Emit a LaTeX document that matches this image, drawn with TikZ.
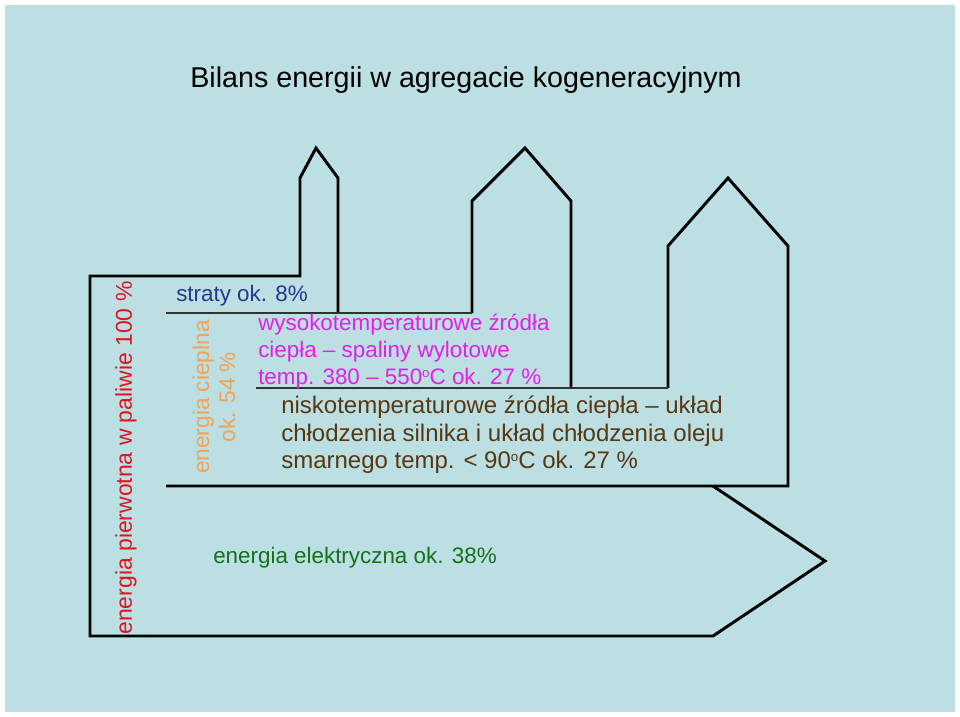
\documentclass[tikz,border=0pt]{standalone}
\usepackage{fontspec}
\setmainfont{Liberation Sans}
\definecolor{bg}{HTML}{BBDFE3}
\definecolor{mag}{HTML}{E61EE6}
\definecolor{brn}{HTML}{583811}
\definecolor{grn}{HTML}{17701D}
\definecolor{org}{HTML}{F2A35A}
\definecolor{nav}{HTML}{2A3590}
\definecolor{rd}{HTML}{E0141C}
\newcommand{\degsup}{\raisebox{0.55ex}{\fontsize{10}{10}\selectfont o}}
\begin{document}
\begin{tikzpicture}[x=0.75pt,y=-0.75pt,
  thick line/.style={line width=2.2pt,line join=miter},
  thin line/.style={line width=0.9pt,draw=black!80},
  txt/.style={inner sep=0pt,anchor=west,font=\fontsize{16.8}{20}\selectfont}]
\fill[white] (0,0) rectangle (960,717);
\fill[bg] (5,5) rectangle (955,712);
\useasboundingbox (0,0) rectangle (960,717);
\draw[thick line] (472,313) -- (472,201) -- (525,148) -- (571,201) -- (571,388);
\draw[thick line] (668,388) -- (668,246) -- (728,178) -- (788,246) -- (788,486) -- (166,486);
\draw[thick line] (338,313) -- (338,178) -- (316,148) -- (300,178) -- (300,276) -- (90,276) -- (90,636) -- (713,636) -- (825,561) -- (713,486);
\draw[thin line] (166,313) -- (472,313);
\draw[thin line] (256,388) -- (668,388);
\node[inner sep=0pt,font=\fontsize{21.5}{24}\selectfont] (title) at (466,80) {Bilans energii w agregacie kogeneracyjnym};
\node[txt,text=nav] (straty) at (176,296) {straty ok. 8\%};
\node[txt,text=mag,align=left,anchor=north west,font=\fontsize{16.8}{20}\selectfont] (wys) at (258,314) {wysokotemperaturowe źródła\\ciepła – spaliny wylotowe\\temp. 380 – 550\degsup C ok. 27 \%};
\node[txt,text=brn,align=left,anchor=north west,font=\fontsize{18}{20.6}\selectfont] (nis) at (281,396) {niskotemperaturowe źródła ciepła – układ\\chłodzenia silnika i układ chłodzenia oleju\\smarnego temp. < 90\degsup C ok. 27 \%};
\node[txt,text=grn] (el) at (213,558) {energia elektryczna ok. 38\%};
\node[inner sep=0pt,rotate=90,text=rd,font=\fontsize{17.2}{20}\selectfont] (pier) at (126,458) {energia pierwotna w paliwie 100 \%};
\node[inner sep=0pt,rotate=90,text=org,align=center,font=\fontsize{17}{19.5}\selectfont] (ciep) at (214,397) {energia cieplna\\ok. 54 \%};
\end{tikzpicture}
\end{document}
